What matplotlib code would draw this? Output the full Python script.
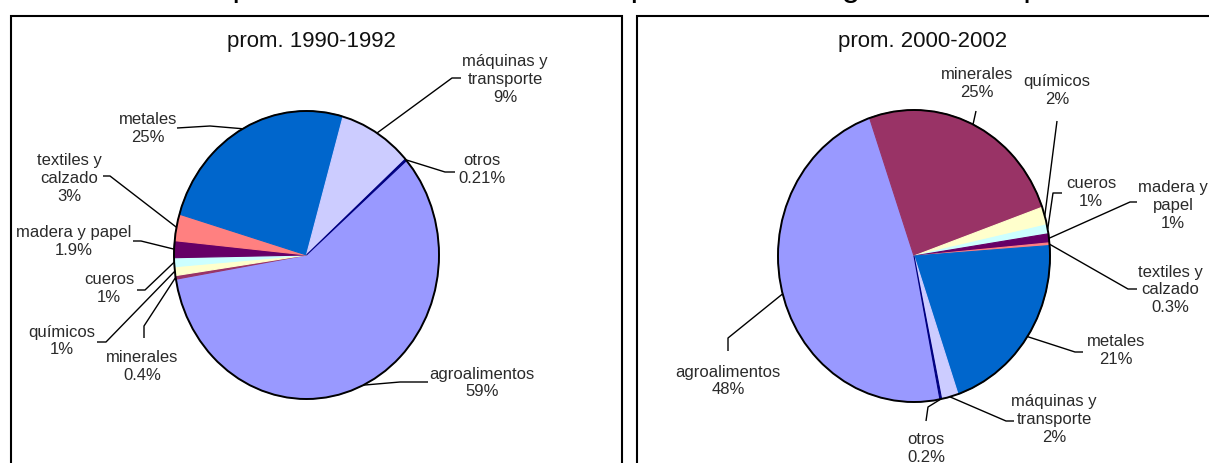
import numpy as np
import matplotlib
matplotlib.use("Agg")
import matplotlib.pyplot as plt
from matplotlib.patches import Circle, Rectangle

plt.rcParams['font.family'] = ['Liberation Sans', 'DejaVu Sans']

# ---------------- data ----------------
categories = ["agroalimentos", "minerales", "químicos", "cueros", "madera y papel",
              "textiles y calzado", "metales", "máquinas y transporte", "otros"]
share_1990 = [59, 0.4, 1, 1, 1.9, 3, 25, 9, 0.21]
share_2000 = [48, 25, 2, 1, 1, 0.3, 21, 2, 0.2]
pct_1990 = ["59%", "0.4%", "1%", "1%", "1.9%", "3%", "25%", "9%", "0.21%"]
pct_2000 = ["48%", "25%", "2%", "1%", "1%", "0.3%", "21%", "2%", "0.2%"]
names_1990 = ["agroalimentos", "minerales", "químicos", "cueros", "madera y papel",
              "textiles y\ncalzado", "metales", "máquinas y\ntransporte", "otros"]
names_2000 = ["agroalimentos", "minerales", "químicos", "cueros", "madera y\npapel",
              "textiles y\ncalzado", "metales", "máquinas y\ntransporte", "otros"]
colors = ["#9999FF", "#993366", "#FFFFCC", "#CCFFFF", "#660066",
          "#FF8080", "#0066CC", "#CCCCFF", "#000080"]
panel_titles = ["prom. 1990-1992", "prom. 2000-2002"]
main_title = "Composición sectorial de las exportaciones argentinas de productos"

# ---------------- layout (pixels) ----------------
W, H = 1209, 464
panels = [
    dict(cx=306.5, cy=256, rx=132.5, ry=144, start=41,
         values=share_1990, pcts=pct_1990, names=names_1990,
         title_xy=(311, 41),
         label_xy=[(482, 383), (142, 366.5), (62, 341), (109, 289), (74, 241.5),
                   (69, 178.5), (148, 128.5), (505, 80), (482, 170)],
         knees=[[(400, 383), (428, 383)], [(144, 327), (144, 339)],
                [(106, 343), (97, 343)], [(145, 291), (137, 291)],
                [(141, 242), (133, 242)], [(110, 177), (103, 177)],
                [(210, 127), (177, 129)], [(452, 79), (461, 79)],
                [(445, 173), (455, 173)]]),
    dict(cx=914, cy=257, rx=136, ry=146, start=-79,
         values=share_2000, pcts=pct_2000, names=names_2000,
         title_xy=(923, 41),
         label_xy=[(728, 381), (977, 83), (1057, 90.5), (1091, 193), (1173, 205.5),
                   (1170, 290), (1116, 351), (1054, 419.5), (926, 448.5)],
         knees=[[(728, 339), (728, 352)], [(976, 112)], [(1057, 122)],
                [(1053, 194), (1062, 194)], [(1130, 203), (1137, 203)],
                [(1128, 290), (1137, 290)], [(1075, 353), (1083, 353)],
                [(1006, 422), (1014, 422)], [(928, 408), (926, 422)]]),
]

fig = plt.figure(figsize=(W / 100, H / 100), dpi=100)

# panel frames
for x0, x1 in [(10.5, 622.0), (636.5, 1260.0)]:
    fig.add_artist(Rectangle((x0 / W, -0.2), (x1 - x0) / W, 1.2 - 17 / H,
                             transform=fig.transFigure, fill=False,
                             ec="black", lw=1.5))

# main title: in the reference it is cut off by the top edge (only descenders visible)
fig.text(162 / W, 1 + 4 / H, main_title, ha="left", va="baseline",
         fontsize=24, color="black")

for p in panels:
    cx, cy, rx, ry = p["cx"], p["cy"], p["rx"], p["ry"]

    def to_data(x, y, cx=cx, cy=cy, rx=rx, ry=ry):
        return (x - cx) / rx, (cy - y) / ry

    ax = fig.add_axes([0, 0, 1, 1])
    wedges, _ = ax.pie(p["values"], colors=colors, startangle=p["start"],
                       counterclock=False, radius=1, center=(0, 0),
                       wedgeprops=dict(linewidth=0))
    for w in wedges:
        w.set_edgecolor(w.get_facecolor())
        w.set_linewidth(0.8)
    ax.set_aspect("auto")
    ax.set_xlim((0 - cx) / rx, (W - cx) / rx)
    ax.set_ylim((cy - H) / ry, (cy - 0) / ry)
    ax.axis("off")
    ax.patch.set_visible(False)
    ax.add_patch(Circle((0, 0), 1, fill=False, ec="black", lw=1.4, zorder=3))

    for w, name, pct, lxy, knee in zip(wedges, p["names"], p["pcts"],
                                       p["label_xy"], p["knees"]):
        mid = np.deg2rad((w.theta1 + w.theta2) / 2)
        pts = [(np.cos(mid), np.sin(mid))] + [to_data(*k) for k in knee]
        xs, ys = zip(*pts)
        ax.plot(xs, ys, color="black", lw=1.0, zorder=4, solid_capstyle="butt")
        lx, ly = to_data(*lxy)
        ax.text(lx, ly, f"{name}\n{pct}", ha="center", va="center",
                multialignment="center", fontsize=12, color="#2a2a2a",
                linespacing=1.25)

for t, p in zip(panel_titles, panels):
    fig.text(p["title_xy"][0] / W, 1 - p["title_xy"][1] / H, t,
             ha="center", va="center", fontsize=16, color="#111111")

fig.savefig("out.png", dpi=100)
